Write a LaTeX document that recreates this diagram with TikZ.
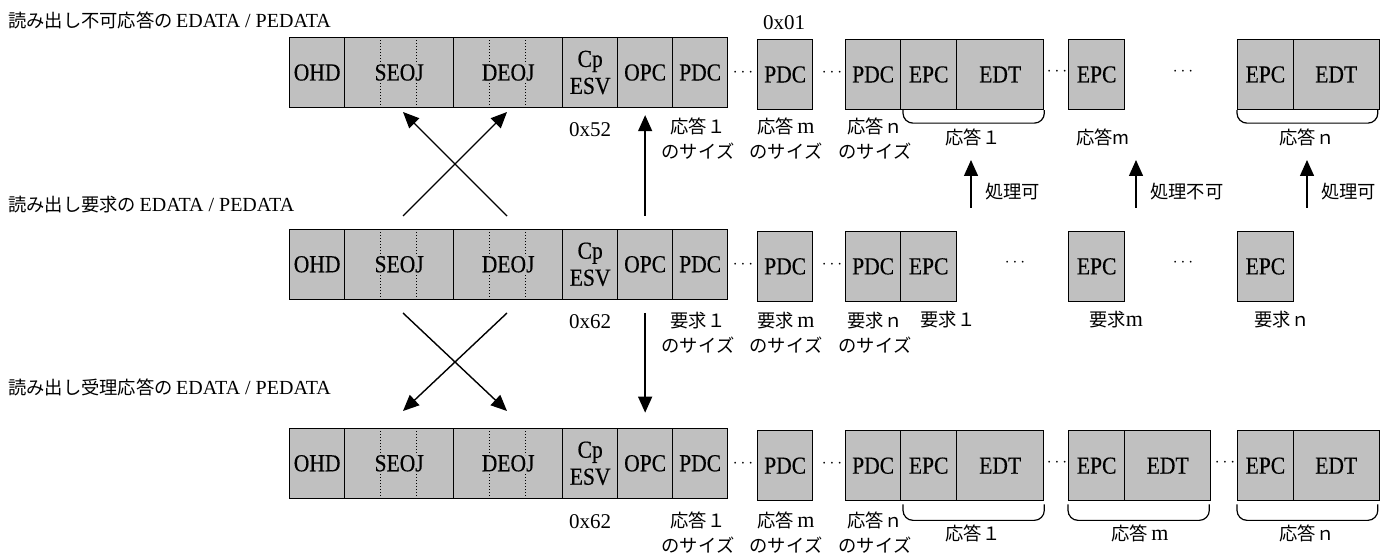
\documentclass[tikz,border=0pt]{standalone}
\usepackage{fontspec}
\setmainfont{Liberation Serif}
\newfontfamily\cellfont[FakeStretch=0.88, FakeBold=0.4]{Liberation Serif}
\newfontfamily\jp[Scale=0.915]{Noto Sans CJK JP}
\usetikzlibrary{arrows.meta}
\definecolor{cellgray}{RGB}{192,192,192}
\newcommand{\serifm}{{\rmfamily\fontsize{22}{25}\selectfont m}}

\begin{document}
\begin{tikzpicture}[x=1pt, y=-1pt, >={Triangle[length=16pt,width=14pt]},
  cell/.style={draw, fill=cellgray, line width=1.3pt, inner sep=0pt,
    minimum height=70pt, anchor=west, font=\fontsize{24.5}{27}\selectfont\cellfont},
  lbl/.style={font=\fontsize{20}{25}\selectfont\jp, align=center, inner sep=0pt},
  hex/.style={font=\fontsize{21}{22}\selectfont, inner sep=0pt},
  hdr/.style={font=\fontsize{20}{22}\selectfont, anchor=west, inner sep=0pt},
  dots/.style={font=\fontsize{19}{20}\selectfont, inner sep=0pt},
  brk/.style={line width=1.2pt, rounded corners=10pt},
  arr/.style={->, line width=1.4pt}]
\useasboundingbox (0,0) rectangle (1394,556);

% headings
\node[hdr] (h1) at (8,20)  {{\jp 読み出し不可応答の}\,EDATA / PEDATA};
\node[hdr] (h2) at (8,205) {{\jp 読み出し要求の}\,EDATA / PEDATA};
\node[hdr] (h3) at (8,387) {{\jp 読み出し受理応答の}\,EDATA / PEDATA};

% common header of the three frames
\foreach \r/\y in {t/72.5, m/264.3, b/463.3}{
  \node[cell, minimum width=55pt]  (ohd\r)  at (289,\y) {OHD};
  \node[cell, minimum width=109pt] (seoj\r) at (344,\y) {SEOJ};
  \node[cell, minimum width=109pt] (deoj\r) at (453,\y) {DEOJ};
  \node[cell, minimum width=55pt, align=center] (esv\r) at (562,\y) {Cp\\ESV};
  \node[cell, minimum width=55pt]  (opc\r)  at (617,\y) {OPC};
  \node[cell, minimum width=55pt]  (pdc\r)  at (672,\y) {PDC};
  \foreach \x in {380.3,416.7,489.3,525.7}{
    \draw[line width=1pt, dash pattern=on 1pt off 2pt] (\x,{\y-35}) -- (\x,{\y-8});
    \draw[line width=1pt, dash pattern=on 1pt off 2pt] (\x,{\y+11}) -- (\x,{\y+35});
  }
  \node[dots] at (743,\y) {$\cdots$};
  \node[dots] at (832,\y) {$\cdots$};
}

% read-not-possible response
\node[cell, minimum width=55pt] (pdcmt) at (757,74.5) {PDC};
\node[cell, minimum width=55pt] (pdcnt) at (845,74.5) {PDC};
\node[cell, minimum width=56pt] (epcat) at (900,74.5) {EPC};
\node[cell, minimum width=87pt] (edtat) at (956,74.5) {EDT};
\node[cell, minimum width=56pt] (epcmt) at (1068,74.5) {EPC};
\node[cell, minimum width=55.5pt] (epcnt) at (1237,74.5) {EPC};
\node[cell, minimum width=86pt] (edtnt) at (1292.5,74.5) {EDT};
\node[dots] at (1057,72) {$\cdots$};
\node[dots] at (1183,72) {$\cdots$};
\node[hex] (pdcval) at (784,23) {0x01};
\node[hex] (esvt) at (590,130) {0x52};
\node[lbl] at (698,139) {応答１\\のサイズ};
\node[lbl] at (786,139) {応答\,\serifm\\のサイズ};
\node[lbl] at (875,139) {応答ｎ\\のサイズ};
\draw[brk] ([xshift=3pt]epcat.south west) -- ++(0,13) -| (edtat.south east);
\draw[brk] (epcnt.south west) -- ++(0,13) -| ([xshift=-2pt]edtnt.south east);
\node[lbl] (resat) at (973,137) {応答１};
\node[lbl] (resmt) at (1103,137) {応答m};
\node[lbl] (resnt) at (1307,137) {応答ｎ};

% read request
\node[cell, minimum width=55pt] (pdcmm) at (757,266.4) {PDC};
\node[cell, minimum width=55pt] (pdcnm) at (845,266.4) {PDC};
\node[cell, minimum width=56pt] (epcam) at (900,266.4) {EPC};
\node[cell, minimum width=56pt] (epcmm) at (1068,266.4) {EPC};
\node[cell, minimum width=55.5pt] (epcnm) at (1237,266.4) {EPC};
\node[dots] at (1015,263) {$\cdots$};
\node[dots] at (1183,263) {$\cdots$};
\node[hex] (esvm) at (590,322) {0x62};
\node[lbl] at (698,333) {要求１\\のサイズ};
\node[lbl] at (786,333) {要求\,\serifm\\のサイズ};
\node[lbl] at (875,333) {要求ｎ\\のサイズ};
\node[lbl] (reqa) at (948,320) {要求１};
\node[lbl] (reqm) at (1116,320) {要求\serifm};
\node[lbl] (reqn) at (1282,320) {要求ｎ};

% read response
\node[cell, minimum width=55pt] (pdcmb) at (757,465.7) {PDC};
\node[cell, minimum width=55pt] (pdcnb) at (845,465.7) {PDC};
\node[cell, minimum width=56pt] (epcab) at (900,465.7) {EPC};
\node[cell, minimum width=87pt] (edtab) at (956,465.7) {EDT};
\node[cell, minimum width=56pt] (epcmb) at (1068,465.7) {EPC};
\node[cell, minimum width=86pt] (edtmb) at (1124,465.7) {EDT};
\node[cell, minimum width=55.5pt] (epcnb) at (1237,465.7) {EPC};
\node[cell, minimum width=86pt] (edtnb) at (1292.5,465.7) {EDT};
\node[dots] at (1057,463) {$\cdots$};
\node[dots] at (1225,463) {$\cdots$};
\node[hex] (esvb) at (590,522) {0x62};
\node[lbl] at (698,532.5) {応答１\\のサイズ};
\node[lbl] at (786,532.5) {応答\,\serifm\\のサイズ};
\node[lbl] at (875,532.5) {応答ｎ\\のサイズ};
\draw[brk] ([xshift=3pt,yshift=-3pt]epcab.south west) -- ++(0,16) -| ([yshift=-3pt]edtab.south east);
\draw[brk] ([yshift=-3pt]epcmb.south west) -- ++(0,16) -| ([xshift=-2pt,yshift=-3pt]edtmb.south east);
\draw[brk] ([yshift=-3pt]epcnb.south west) -- ++(0,16) -| ([xshift=-2pt,yshift=-3pt]edtnb.south east);
\node[lbl] (resab) at (973,533) {応答１};
\node[lbl] (resmb) at (1140,533) {応答\,\serifm};
\node[lbl] (resnb) at (1307,533) {応答ｎ};

% arrows
\coordinate (xa) at (403,216); \coordinate (xb) at (507,112);
\coordinate (xc) at (507,216); \coordinate (xd) at (403,112);
\draw[arr] (xa) -- (xb);
\draw[arr] (xc) -- (xd);
\coordinate (ya) at (403,313); \coordinate (yb) at (507,411);
\coordinate (yc) at (507,313); \coordinate (yd) at (403,411);
\draw[arr] (ya) -- (yb);
\draw[arr] (yc) -- (yd);
\draw[arr, shorten <=13pt, shorten >=7pt] (opcm.north) -- (opct.south);
\draw[arr, shorten <=13pt, shorten >=15pt] (opcm.south) -- (opcb.north);
\foreach \x/\t [count=\i] in {971/処理可, 1136/処理不可, 1307/処理可}{
  \coordinate (up\i) at (\x,208);
  \draw[arr] (up\i) -- ++(0,-48);
  \node[lbl, anchor=west] (ok\i) at (\x+14,192) {\t};
}
\end{tikzpicture}
\end{document}
